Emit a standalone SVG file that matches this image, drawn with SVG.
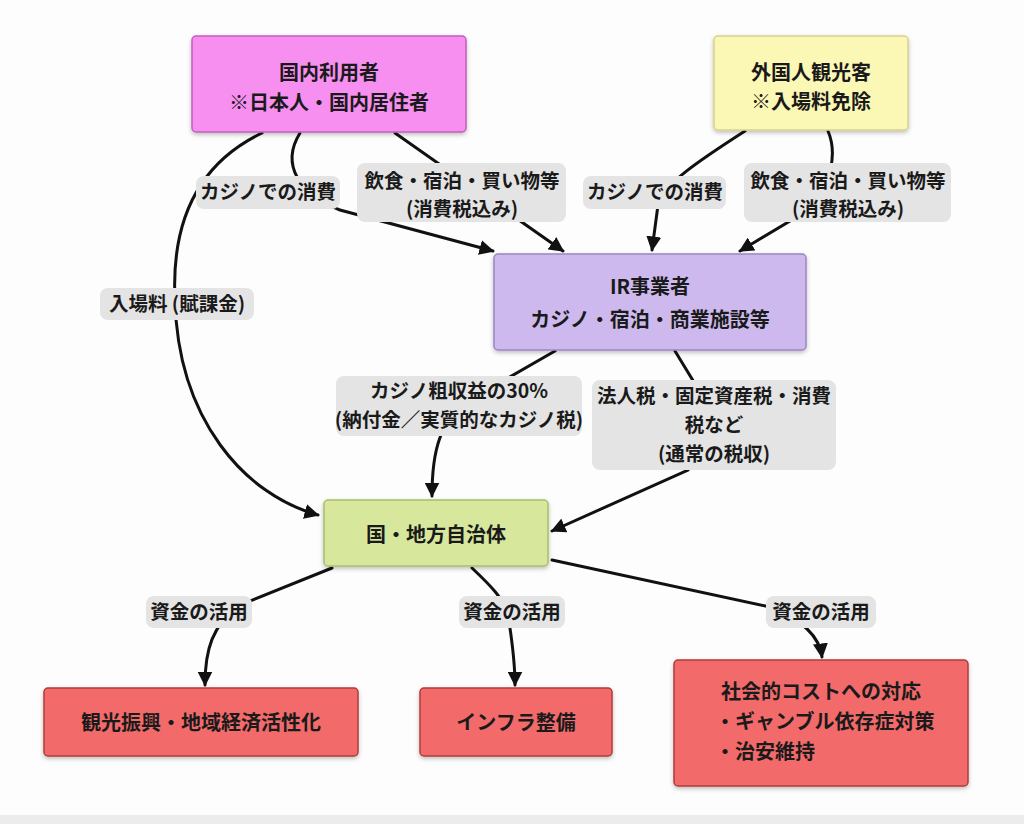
<svg xmlns="http://www.w3.org/2000/svg" width="1024" height="824" viewBox="0 0 1024 824">
<defs>
<marker id="arr" viewBox="0 0 10 10" refX="9" refY="5" markerWidth="5" markerHeight="5" orient="auto" markerUnits="strokeWidth">
<path d="M0,0 L10,5 L0,10 z" fill="#111"/>
</marker>
<filter id="sh" x="-10%" y="-10%" width="120%" height="130%">
<feDropShadow dx="0" dy="2" stdDeviation="2" flood-color="#000" flood-opacity="0.25"/>
</filter>
</defs>
<style>
text{font-family:"Noto Sans CJK JP","Noto Sans",sans-serif;font-size:20px;font-weight:700;fill:#1a1a1a;text-anchor:middle}
.node rect{stroke-width:1.5;filter:url(#sh)}
.lab rect{fill:#e4e4e4;stroke:none}
.lab text{font-size:19.5px}
#connectors path{fill:none;stroke:#111;stroke-width:3;stroke-linecap:round}
.red{fill:#f26b6b;stroke:#b13b3b}
</style>
<rect width="1024" height="824" fill="#fdfdfd"/>
<rect y="815" width="1024" height="9" fill="#ececec"/>

<g id="connectors">
<path d="M262,133 C185,170 172,240 175,300 C178,420 245,495 318,515" marker-end="url(#arr)"/>
<path d="M300,133 C280,165 300,195 340,210 L493,251" marker-end="url(#arr)"/>
<path d="M395,133 L563,251" marker-end="url(#arr)"/>
<path d="M745,131 C700,160 662,185 658,205 L652,250" marker-end="url(#arr)"/>
<path d="M828,131 C836,150 836,185 800,215 L740,251" marker-end="url(#arr)"/>
<path d="M555,351 L470,400 C440,420 432,450 432,496" marker-end="url(#arr)"/>
<path d="M675,351 L720,425 L688,470 L552,531" marker-end="url(#arr)"/>
<path d="M332,568 L240,605 C212,625 205,650 205,685" marker-end="url(#arr)"/>
<path d="M472,568 C490,585 505,600 508,615 C512,640 515,660 515,685" marker-end="url(#arr)"/>
<path d="M552,560 L770,607 C808,622 820,640 822,657" marker-end="url(#arr)"/>
</g>

<g id="labels">
<g class="lab" id="lab-casino1"><rect x="196" y="176" width="144" height="33" rx="8"/><text x="268" y="199">カジノでの消費</text></g>
<g class="lab" id="lab-shop1"><rect x="357" y="163" width="209" height="59" rx="8"/><text x="462" y="188">飲食・宿泊・買い物等</text><text x="462" y="216">(消費税込み)</text></g>
<g class="lab" id="lab-casino2"><rect x="583" y="176" width="143" height="33" rx="8"/><text x="655" y="199">カジノでの消費</text></g>
<g class="lab" id="lab-shop2"><rect x="744" y="163" width="207" height="59" rx="8"/><text x="848" y="188">飲食・宿泊・買い物等</text><text x="848" y="216">(消費税込み)</text></g>
<g class="lab" id="lab-entry"><rect x="100" y="288" width="154" height="32" rx="8"/><text x="177" y="311">入場料 (賦課金)</text></g>
<g class="lab" id="lab-ggr"><rect x="336" y="376" width="246" height="60" rx="8"/><text x="459" y="398">カジノ粗収益の30%</text><text x="459" y="427">(納付金／実質的なカジノ税)</text></g>
<g class="lab" id="lab-tax"><rect x="592" y="380" width="244" height="90" rx="8"/><text x="714" y="403">法人税・固定資産税・消費</text><text x="714" y="432">税など</text><text x="714" y="461">(通常の税収)</text></g>
<g class="lab" id="lab-fund1"><rect x="146" y="596" width="106" height="32" rx="8"/><text x="199" y="619">資金の活用</text></g>
<g class="lab" id="lab-fund2"><rect x="459" y="596" width="106" height="32" rx="8"/><text x="512" y="619">資金の活用</text></g>
<g class="lab" id="lab-fund3"><rect x="766" y="596" width="110" height="32" rx="8"/><text x="821" y="619">資金の活用</text></g>
</g>

<g class="node" id="n-domestic"><rect x="192" y="36" width="274" height="96" rx="4" fill="#f68ff0" stroke="#c45dbe"/><text x="329" y="80">国内利用者</text><text x="329" y="110">※日本人・国内居住者</text></g>
<g class="node" id="n-foreign"><rect x="714" y="36" width="194" height="94" rx="4" fill="#fbf8b6" stroke="#d9d18c"/><text x="811" y="80">外国人観光客</text><text x="811" y="109">※入場料免除</text></g>
<g class="node" id="n-ir"><rect x="494" y="254" width="312" height="96" rx="4" fill="#cdb9ee" stroke="#9b85c4"/><text x="650" y="294">IR事業者</text><text x="650" y="327">カジノ・宿泊・商業施設等</text></g>
<g class="node" id="n-gov"><rect x="324" y="500" width="224" height="66" rx="4" fill="#d7e89c" stroke="#aabd6c"/><text x="436" y="542">国・地方自治体</text></g>
<g class="node" id="n-tourism"><rect class="red" x="44" y="688" width="314" height="68" rx="4"/><text x="201" y="730">観光振興・地域経済活性化</text></g>
<g class="node" id="n-infra"><rect class="red" x="420" y="688" width="192" height="68" rx="4"/><text x="516" y="730">インフラ整備</text></g>
<g class="node" id="n-social"><rect class="red" x="674" y="660" width="294" height="126" rx="4"/><text x="821" y="699">社会的コストへの対応</text><text x="715" y="729" style="text-anchor:start">・ギャンブル依存症対策</text><text x="715" y="759" style="text-anchor:start">・治安維持</text></g>
</svg>
